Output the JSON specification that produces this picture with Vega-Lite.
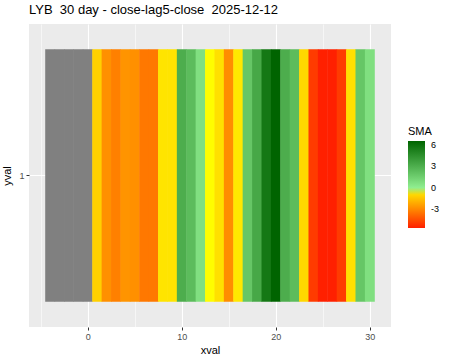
{
  "$schema": "https://vega.github.io/schema/vega-lite/v6.json",
  "autosize": {"type": "none"},
  "width": 362,
  "height": 303,
  "padding": {"left": 29, "top": 24, "right": 59, "bottom": 33},
  "background": "white",
  "title": {"text": "LYB \u00a030 day - close-lag5-close \u00a02025-12-12", "anchor": "start", "frame": "group", "fontSize": 13, "fontWeight": "normal", "font": "Liberation Sans", "color": "black", "offset": 7},
  "config": {
    "view": {"fill": "#EBEBEB", "stroke": null},
    "font": "Liberation Sans",
    "axis": {"domain": false, "gridColor": "white", "labelColor": "#4D4D4D", "labelFontSize": 9, "tickColor": "#333333", "tickSize": 3, "titleColor": "black", "titleFontSize": 11, "titleFontWeight": "normal", "labelFont": "Liberation Sans", "titleFont": "Liberation Sans", "zindex": 0}
  },
  "data": {"values": [
    {"xval": -4, "yval": "1", "SMA": null},
    {"xval": -3, "yval": "1", "SMA": null},
    {"xval": -2, "yval": "1", "SMA": null},
    {"xval": -1, "yval": "1", "SMA": null},
    {"xval": 0, "yval": "1", "SMA": null},
    {"xval": 1, "yval": "1", "SMA": -1.19},
    {"xval": 2, "yval": "1", "SMA": -2.81},
    {"xval": 3, "yval": "1", "SMA": -3.22},
    {"xval": 4, "yval": "1", "SMA": -2.71},
    {"xval": 5, "yval": "1", "SMA": -2.81},
    {"xval": 6, "yval": "1", "SMA": -3.42},
    {"xval": 7, "yval": "1", "SMA": -3.42},
    {"xval": 8, "yval": "1", "SMA": -0.68},
    {"xval": 9, "yval": "1", "SMA": -0.68},
    {"xval": 10, "yval": "1", "SMA": 3.07},
    {"xval": 11, "yval": "1", "SMA": 2.35},
    {"xval": 12, "yval": "1", "SMA": 0.72},
    {"xval": 13, "yval": "1", "SMA": -0.05},
    {"xval": 14, "yval": "1", "SMA": -0.79},
    {"xval": 15, "yval": "1", "SMA": -2.9},
    {"xval": 16, "yval": "1", "SMA": -0.58},
    {"xval": 17, "yval": "1", "SMA": 1.9},
    {"xval": 18, "yval": "1", "SMA": 3.3},
    {"xval": 19, "yval": "1", "SMA": 5.6},
    {"xval": 20, "yval": "1", "SMA": 6.55},
    {"xval": 21, "yval": "1", "SMA": 3.07},
    {"xval": 22, "yval": "1", "SMA": 2.35},
    {"xval": 23, "yval": "1", "SMA": -0.99},
    {"xval": 24, "yval": "1", "SMA": -4.97},
    {"xval": 25, "yval": "1", "SMA": -5.65},
    {"xval": 26, "yval": "1", "SMA": -5.65},
    {"xval": 27, "yval": "1", "SMA": -4.97},
    {"xval": 28, "yval": "1", "SMA": -0.79},
    {"xval": 29, "yval": "1", "SMA": 1.9},
    {"xval": 30, "yval": "1", "SMA": 0.72}
  ]},
  "mark": {"type": "rect", "width": 9.9, "invalid": "show", "zindex": 1},
  "encoding": {
    "x": {"field": "xval", "type": "quantitative", "title": "xval",
      "scale": {"domain": [-6.25, 32.25], "nice": false, "zero": false},
      "axis": {"values": [-5, 0, 5, 10, 15, 20, 25, 30],
        "labelExpr": "datum.value % 10 === 0 ? datum.label : ''",
        "grid": true,
        "gridWidth": {"condition": {"test": "datum.value % 10 === 0", "value": 1.1}, "value": 0.55},
        "tickOpacity": {"condition": {"test": "datum.value % 10 === 0", "value": 1}, "value": 0},
        "labelPadding": 2, "titlePadding": 3}},
    "y": {"field": "yval", "type": "ordinal", "title": "yval",
      "scale": {"paddingInner": 0, "paddingOuter": 0.1},
      "axis": {"grid": true, "gridWidth": 1.1, "bandPosition": 0.5, "labelPadding": 2, "titlePadding": 6}},
    "color": {
      "condition": {"test": "datum.SMA === null", "value": "#808080"},
      "field": "SMA", "type": "quantitative", "title": "SMA",
      "scale": {"domain": [-5.65, -0.001, 0, 6.55], "range": ["#FF2000", "#FFFF00", "#90EE90", "#006400"], "interpolate": "rgb"},
      "legend": {"orient": "none", "legendX": 379, "legendY": 102, "values": [-3, 0, 3, 6],
        "labelExpr": "datum.value < 0 ? '-' + abs(datum.value) : '' + datum.value",
        "gradientLength": 87, "gradientThickness": 17, "titleFontSize": 11, "titleFontWeight": "normal", "titleColor": "black",
        "labelFontSize": 9, "labelColor": "black", "labelOffset": 6, "titlePadding": 4, "padding": 0, "gradientStrokeWidth": 0}
    }
  }
}
